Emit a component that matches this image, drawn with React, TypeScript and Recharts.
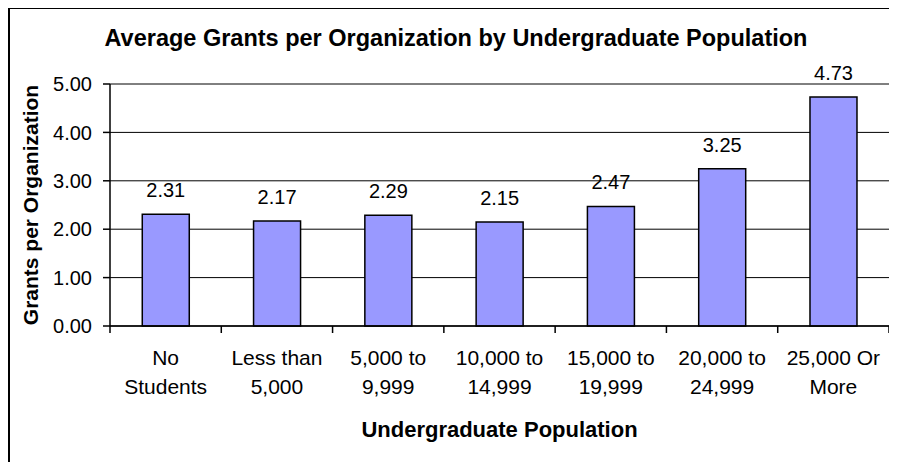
import { Bar, BarChart, CartesianGrid, LabelList, XAxis, YAxis } from "recharts";

const categories = [
  "No\nStudents",
  "Less than\n5,000",
  "5,000 to\n9,999",
  "10,000 to\n14,999",
  "15,000 to\n19,999",
  "20,000 to\n24,999",
  "25,000 Or\nMore",
];
const grants = [2.31, 2.17, 2.29, 2.15, 2.47, 3.25, 4.73];
const yTicks = [0, 1, 2, 3, 4, 5];

const FONT = "'Liberation Sans', Arial, Helvetica, sans-serif";
const PLOT_W = 779;
const BAND = PLOT_W / categories.length;

const data = categories.map((name, i) => ({ name, grants: grants[i] }));

function CategoryTick(props: any) {
  const { x, y, payload, index } = props;
  const lines = String(payload.value).split("\n");
  const half = BAND / 2;
  return (
    <g>
      <line x1={x - half} x2={x - half} y1={y} y2={y + 7} stroke="#000" strokeWidth={1.5} />
      {index === categories.length - 1 && (
        <line x1={x + half} x2={x + half} y1={y} y2={y + 7} stroke="#000" strokeWidth={1.5} />
      )}
      <text x={x} y={y} textAnchor="middle" fontSize={21} fill="#000" fontFamily={FONT}>
        {lines.map((line, i) => (
          <tspan key={i} x={x} y={y + 39 + i * 29}>
            {line}
          </tspan>
        ))}
      </text>
    </g>
  );
}

export default function App() {
  return (
    <div
      style={{
        position: "relative",
        width: 900,
        height: 470,
        marginTop: -1,
        borderLeft: "2px solid #000",
        borderTop: "2px solid #000",
        fontFamily: FONT,
        background: "#fff",
      }}
    >
      <style>{"html, body { overflow: hidden; }"}</style>
      <div
        style={{
          position: "absolute",
          top: 18,
          left: 0,
          width: 892,
          textAlign: "center",
          fontSize: 23.5,
          lineHeight: "23px",
          fontWeight: "bold",
          color: "#000",
          whiteSpace: "nowrap",
        }}
      >
        Average Grants per Organization by Undergraduate Population
      </div>
      <BarChart
        width={887}
        height={452}
        data={data}
        margin={{ top: 75, right: 8, left: 0, bottom: 0 }}
        barCategoryGap="29%"
      >
        <CartesianGrid vertical={false} stroke="#000" strokeWidth={1} />
        <XAxis
          dataKey="name"
          height={135}
          interval={0}
          tickSize={0}
          tickMargin={0}
          tick={<CategoryTick />}
          axisLine={{ stroke: "#000", strokeWidth: 1.5 }}
          label={{
            value: "Undergraduate Population",
            position: "insideBottom",
            offset: 24,
            fill: "#000",
            style: { fontWeight: "bold", fontSize: 22, fontFamily: FONT, fill: "#000" },
          }}
        />
        <XAxis
          xAxisId="top"
          dataKey="name"
          orientation="top"
          height={0}
          tick={false}
          tickLine={false}
          axisLine={{ stroke: "#808080", strokeWidth: 1.5 }}
        />
        <YAxis
          width={100}
          domain={[0, 5]}
          ticks={yTicks}
          interval={0}
          tickFormatter={(v: number) => v.toFixed(2)}
          tickSize={7}
          tickMargin={11}
          tickLine={{ stroke: "#000", strokeWidth: 1.5 }}
          axisLine={{ stroke: "#000", strokeWidth: 1.5 }}
          tick={{ fill: "#000", fontSize: 20, fontFamily: FONT }}
          label={{
            value: "Grants per Organization",
            angle: -90,
            position: "insideLeft",
            offset: 21,
            fill: "#000",
            style: { textAnchor: "middle", fontWeight: "bold", fontSize: 21, fontFamily: FONT, fill: "#000" },
          }}
        />
        <YAxis
          yAxisId="right"
          orientation="right"
          width={0}
          domain={[0, 5]}
          tick={false}
          tickLine={false}
          axisLine={{ stroke: "#808080", strokeWidth: 1.5 }}
        />
        <Bar dataKey="grants" fill="#9999FF" stroke="#000" strokeWidth={1.5} isAnimationActive={false}>
          <LabelList
            dataKey="grants"
            position="top"
            offset={17}
            formatter={(v: any) => Number(v).toFixed(2)}
            style={{ fill: "#000", fontSize: 20, fontFamily: FONT }}
          />
        </Bar>
      </BarChart>
    </div>
  );
}
